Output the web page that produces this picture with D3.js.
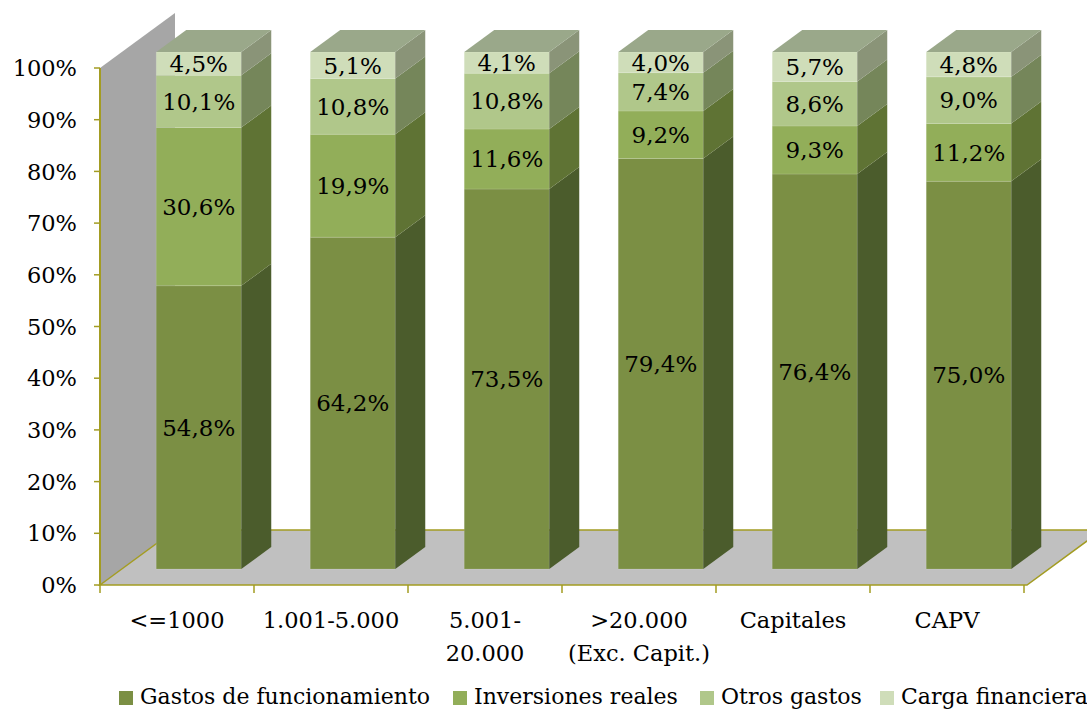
<!DOCTYPE html>
<html>
<head>
<meta charset="utf-8">
<script src="https://cdn.jsdelivr.net/npm/d3@7"></script>
<style>
  body { margin: 0; background: #fff; }
  text { font-family: "DejaVu Serif", serif; fill: #000; }
</style>
</head>
<body>
<svg id="chart" width="1087" height="711"></svg>
<script>
// data
const categories = ["<=1000", "1.001-5.000", "5.001-\n20.000", ">20.000\n(Exc. Capit.)", "Capitales", "CAPV"]
const seriesNames = ["Gastos de funcionamiento", "Inversiones reales", "Otros gastos", "Carga financiera"]
const gastos = [54.8, 64.2, 73.5, 79.4, 76.4, 75.0]
const inversiones = [30.6, 19.9, 11.6, 9.2, 9.3, 11.2]
const otros = [10.1, 10.8, 10.8, 7.4, 8.6, 9.0]
const carga = [4.5, 5.1, 4.1, 4.0, 5.7, 4.8]
const yTicks = [0, 10, 20, 30, 40, 50, 60, 70, 80, 90, 100]

const frontColors = ["#7b8f44", "#92ae59", "#b0c78a", "#cfddb9"]
const sideColors = ["#4b5c2c", "#5f7334", "#75865a", "#8a9478"]
const topColor = "#9aa88a"
const axisColor = "#a39c22"

const svg = d3.select("#chart")

// 3d depth of the plot
const DX = 75, DY = 55
const z0 = 0.29, z1 = 0.69

const x = d3.scaleBand().domain(d3.range(categories.length)).range([100, 1024])
  .paddingInner(0.448).paddingOuter(0.224)
const y = d3.scaleLinear().domain([0, 100]).range([585, 68])

const px = (xv, z) => xv + z * DX
const py = (v, z) => y(v) - z * DY

// wall and floor
svg.append("polygon")
  .attr("points", [[px(100, 0), py(100, 0)], [px(100, 1), py(100, 1)], [px(100, 1), py(0, 1)], [px(100, 0), py(0, 0)]].join(" "))
  .attr("fill", "#a6a6a6")

svg.append("polygon")
  .attr("points", [[px(100, 0), py(0, 0)], [px(100, 1), py(0, 1)], [px(1027, 1), py(0, 1)], [px(1027, 0), py(0, 0)]].join(" "))
  .attr("fill", "#c0c0c0")
  .attr("stroke", axisColor).attr("stroke-width", 1.5)

// y axis
svg.append("line")
  .attr("x1", 100).attr("x2", 100).attr("y1", y(100)).attr("y2", y(0))
  .attr("stroke", axisColor).attr("stroke-width", 2)

svg.selectAll(".ytick").data(yTicks).join("line")
  .attr("x1", 94).attr("x2", 100).attr("y1", d => y(d)).attr("y2", d => y(d))
  .attr("stroke", axisColor).attr("stroke-width", 1.5)

svg.selectAll(".ylab").data(yTicks).join("text")
  .attr("x", 77).attr("y", d => y(d)).attr("dy", "0.36em")
  .attr("text-anchor", "end").style("font-size", "22.5px")
  .text(d => d + "%")

// x axis ticks
const step = x.step()
svg.selectAll(".xtick").data(d3.range(categories.length + 1)).join("line")
  .attr("x1", d => 100 + d * step).attr("x2", d => 100 + d * step)
  .attr("y1", y(0)).attr("y2", y(0) + 8)
  .attr("stroke", axisColor).attr("stroke-width", 1.5)

// bars
const series = [gastos, inversiones, otros, carga]
const fmt = v => v.toFixed(1).replace(".", ",") + "%"

categories.forEach((c, i) => {
  const xl = x(i), xr = x(i) + x.bandwidth()
  let base = 0
  const g = svg.append("g")
  series.forEach((s, k) => {
    const v0 = base, v1 = base + s[i]
    base = v1
    // front face
    g.append("polygon")
      .attr("points", [[px(xl, z0), py(v0, z0)], [px(xr, z0), py(v0, z0)], [px(xr, z0), py(v1, z0)], [px(xl, z0), py(v1, z0)]].join(" "))
      .attr("fill", frontColors[k])
      .attr("stroke", "rgba(255,255,255,0.12)").attr("stroke-width", 1)
    // side face
    g.append("polygon")
      .attr("points", [[px(xr, z0), py(v0, z0)], [px(xr, z1), py(v0, z1)], [px(xr, z1), py(v1, z1)], [px(xr, z0), py(v1, z0)]].join(" "))
      .attr("fill", sideColors[k])
    g.append("text")
      .attr("x", px((xl + xr) / 2, z0))
      .attr("y", (py(v0, z0) + py(v1, z0)) / 2)
      .attr("dy", "0.36em")
      .attr("text-anchor", "middle").style("font-size", "23px")
      .text(fmt(s[i]))
  })
  // top face
  g.append("polygon")
    .attr("points", [[px(xl, z0), py(base, z0)], [px(xr, z0), py(base, z0)], [px(xr, z1), py(base, z1)], [px(xl, z1), py(base, z1)]].join(" "))
    .attr("fill", topColor)
})

// category labels
svg.selectAll(".xlab").data(categories).join("text")
  .attr("x", (d, i) => 100 + (i + 0.5) * step)
  .attr("y", 628)
  .attr("text-anchor", "middle").style("font-size", "22.5px")
  .each(function (d) {
    const t = d3.select(this)
    d.split("\n").forEach((line, j) => {
      t.append("tspan").attr("x", t.attr("x")).attr("dy", j ? 33 : 0).text(line)
    })
  })

// legend
const legendX = [119, 453, 700, 880]
const legend = svg.selectAll(".leg").data(seriesNames).join("g")
  .attr("transform", (d, i) => `translate(${legendX[i]},691)`)
legend.append("rect").attr("width", 14).attr("height", 14).attr("fill", (d, i) => frontColors[i])
legend.append("text").attr("x", 21).attr("y", 13).style("font-size", "22px").text(d => d)
</script>
</body>
</html>
